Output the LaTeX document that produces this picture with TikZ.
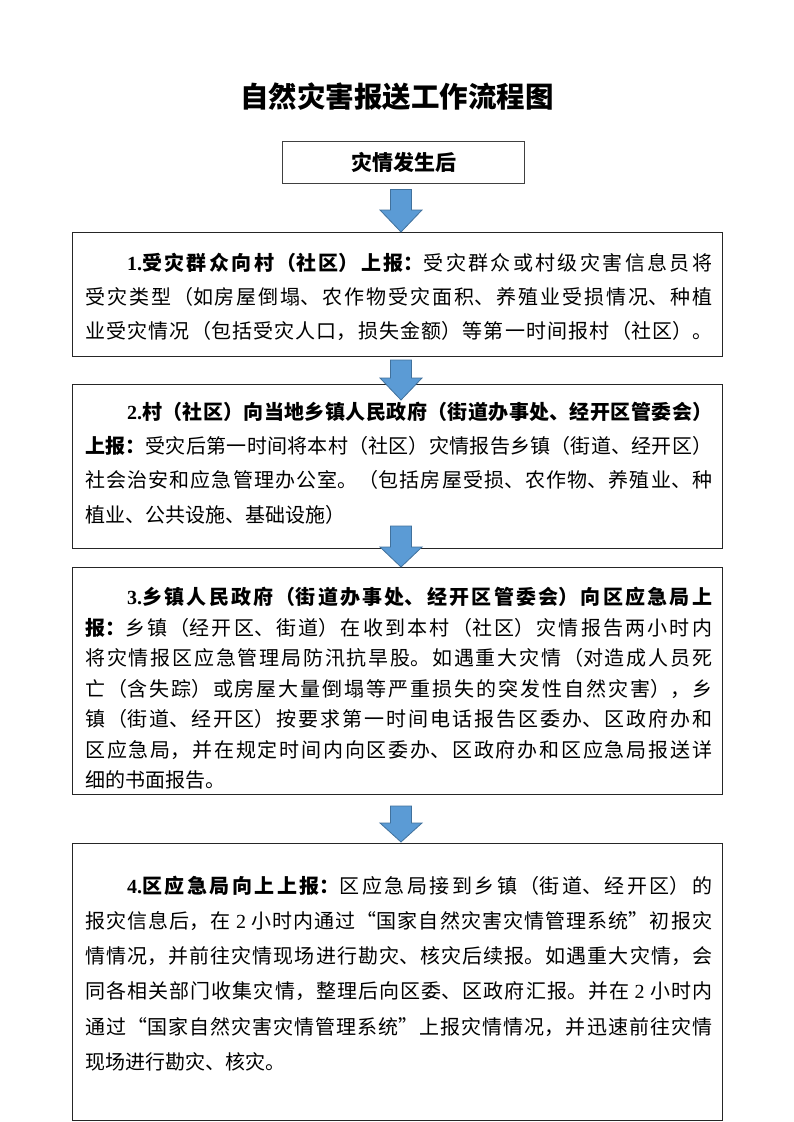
\documentclass[tikz,border=0pt]{standalone}
\usepackage{fontspec}
\setmainfont{Noto Sans CJK SC}
\newfontfamily\lat{Liberation Serif}
\XeTeXlinebreaklocale "zh"
\XeTeXlinebreakskip=0pt plus 3pt
\setlength\parindent{0pt}
\definecolor{arrowblue}{HTML}{5B9BD5}
\definecolor{arrowedge}{HTML}{41719C}
\newcommand\blockarr[4]{% x, ytop, ybase, ytip
  \draw[barrow] (#1-10.5,#2) -- (#1+10.5,#2) -- (#1+10.5,#3) -- (#1+21,#3) -- (#1,#4) -- (#1-21,#3) -- (#1-10.5,#3) -- cycle;}
\begin{document}
\begin{tikzpicture}[x=1pt,y=-1pt,
  box/.style={draw=black!85,line width=1.3pt,inner sep=0pt,anchor=north west,minimum width=650pt},
  startbox/.style={draw=black!75,line width=1pt,inner sep=0pt,anchor=north west,minimum width=242pt,minimum height=42pt},
  para/.style={anchor=north west,inner sep=0pt,text width=627pt,align=justify},
  barrow/.style={fill=arrowblue,draw=arrowedge,line width=0.8pt}]
\useasboundingbox[fill=white] (0,0) rectangle (793,1122);

\node[font=\fontsize{28.5}{34}\selectfont\bfseries] (title) at (397,97) {自然灾害报送工作流程图};

\node[startbox] (b0) at (282,141) {};
\node[font=\fontsize{21}{25}\selectfont\bfseries] (t0) at (b0.center) {灾情发生后};

\node[box,minimum height=124pt] (b1) at (72,232) {};
\node[box,minimum height=164pt] (b2) at (72,384) {};
\node[box,minimum height=227pt] (b3) at (72,567) {};
\node[box,minimum height=277pt] (b4) at (72,843) {};

\node[para,font=\fontsize{20}{34}\selectfont] (t1) at (85,252.7) {%
\hspace*{42pt}{\bfseries{\lat 1.}受灾群众向村（社区）上报：}受灾群众或村级灾害信息员将\linebreak
受灾类型（如房屋倒塌、农作物受灾面积、养殖业受损情况、种植\linebreak
业受灾情况（包括受灾人口，损失金额）等第一时间报村（社区）。\hskip 0pt plus -1fil\hbox{}};

\node[para,font=\fontsize{20}{34.3}\selectfont] (t2) at (85,401.7) {%
\hspace*{42pt}{\bfseries{\lat 2.}村（社区）向当地乡镇人民政府（街道办事处、经开区管委会）}\linebreak
{\bfseries 上报：}受灾后第一时间将本村（社区）灾情报告乡镇（街道、经开区）\linebreak
社会治安和应急管理办公室。（包括房屋受损、农作物、养殖业、种\linebreak
植业、公共设施、基础设施）};

\node[para,font=\fontsize{20}{30.5}\selectfont] (t3) at (85,587) {%
\hspace*{42pt}{\bfseries{\lat 3.}乡镇人民政府（街道办事处、经开区管委会）向区应急局上\linebreak
报：}乡镇（经开区、街道）在收到本村（社区）灾情报告两小时内\linebreak
将灾情报区应急管理局防汛抗旱股。如遇重大灾情（对造成人员死\linebreak
亡（含失踪）或房屋大量倒塌等严重损失的突发性自然灾害），乡\linebreak
镇（街道、经开区）按要求第一时间电话报告区委办、区政府办和\linebreak
区应急局，并在规定时间内向区委办、区政府办和区应急局报送详\linebreak
细的书面报告。};

\node[para,font=\fontsize{20}{35.2}\selectfont] (t4) at (85,875.7) {%
\hspace*{42pt}{\bfseries{\lat 4.}区应急局向上上报：}区应急局接到乡镇（街道、经开区）的\linebreak
报灾信息后，在\ {\lat 2}\ 小时内通过“国家自然灾害灾情管理系统”初报灾\linebreak
情情况，并前往灾情现场进行勘灾、核灾后续报。如遇重大灾情，会\linebreak
同各相关部门收集灾情，整理后向区委、区政府汇报。并在\ {\lat 2}\ 小时内\linebreak
通过“国家自然灾害灾情管理系统”上报灾情情况，并迅速前往灾情\linebreak
现场进行勘灾、核灾。};

\blockarr{401}{189.5}{210}{232}
\blockarr{401}{360}{378}{400}
\blockarr{401}{526}{547}{567}
\blockarr{401}{806}{823}{842}
\end{tikzpicture}
\end{document}
